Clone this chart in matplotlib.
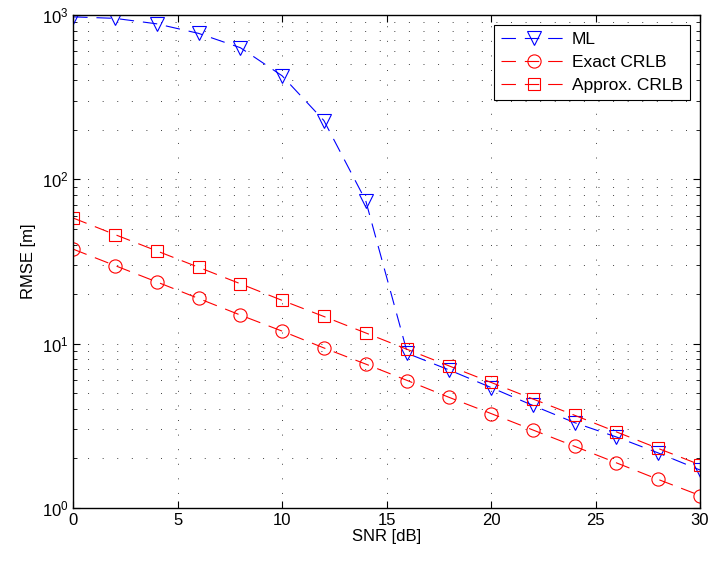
import matplotlib
matplotlib.use("Agg")
import matplotlib.pyplot as plt
from matplotlib.ticker import LogLocator, NullFormatter

plt.rcParams["font.family"] = ["Liberation Sans", "DejaVu Sans"]

snr = [0, 2, 4, 6, 8, 10, 12, 14, 16, 18, 20, 22, 24, 26, 28, 30]
ml = [970, 950, 880, 770, 630, 425, 227, 74, 8.7, 6.9, 5.4, 4.2, 3.3, 2.7, 2.16, 1.70]
exact_crlb = [37.5, 29.8, 23.7, 18.8, 14.9, 11.9, 9.4, 7.5, 5.95, 4.7, 3.75, 2.98,
              2.37, 1.88, 1.49, 1.19]
approx_crlb = [58, 46, 36.6, 29.1, 23.1, 18.3, 14.6, 11.6, 9.2, 7.3, 5.8, 4.6,
               3.66, 2.9, 2.3, 1.83]

fig = plt.figure(figsize=(7.1, 5.65), dpi=100)
ax = fig.add_axes([0.103, 0.101, 0.883, 0.873])

dash = (0, (13, 8))
common = dict(lw=0.8, ls=dash, fillstyle="none", mew=0.8)
ax.plot(snr, ml, marker="v", ms=10, color="blue", label="ML", **common)
ax.plot(snr, exact_crlb, marker="o", ms=9.5, color="red", label="Exact CRLB", **common)
ax.plot(snr, approx_crlb, marker="s", ms=8, color="red", label="Approx. CRLB", **common)

ax.set_yscale("log")
ax.set_xlim(0, 30)
ax.set_ylim(1, 1000)
ax.set_xticks([0, 5, 10, 15, 20, 25, 30])
ax.yaxis.set_minor_locator(LogLocator(base=10, subs=range(2, 10)))
ax.yaxis.set_minor_formatter(NullFormatter())

gridstyle = dict(ls=(0, (1, 14)), color="black", lw=0.7, alpha=0.75)
ax.grid(True, which="major", **gridstyle)
ax.grid(True, which="minor", axis="y", **gridstyle)
ax.tick_params(which="both", direction="in", top=True, right=True, labelsize=12)
ax.tick_params(which="major", length=5)
ax.tick_params(which="minor", length=3)
for sp in ax.spines.values():
    sp.set_linewidth(1.0)

ax.set_xlabel("SNR [dB]", fontsize=12, labelpad=1)
ax.set_ylabel("RMSE [m]", fontsize=12)

leg = ax.legend(loc="upper right", fontsize=12.5, handlelength=3.8, fancybox=False,
                edgecolor="black", framealpha=1, borderaxespad=0.6,
                labelspacing=0.45, handletextpad=0.3, borderpad=0.4)
leg.get_frame().set_linewidth(0.8)

fig.savefig("out.png", dpi=100)
